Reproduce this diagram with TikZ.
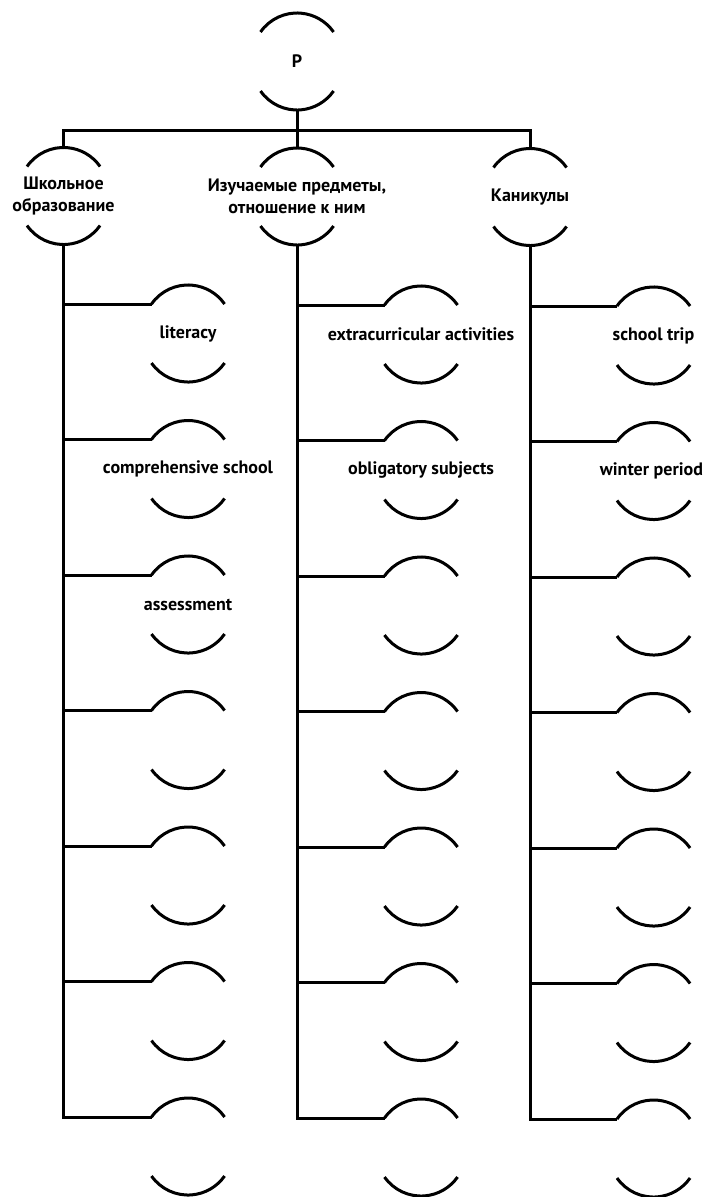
\documentclass[tikz,border=0pt]{standalone}
\usepackage{fontspec}
\setmainfont{PT Sans}
\begin{document}
\begin{tikzpicture}[x=1pt,y=1pt,
  lbl/.style={inner sep=0pt, minimum width=74pt, minimum height=97pt, align=center,
    font=\bfseries\fontsize{18}{21.5}\selectfont},
  ln/.style={line width=3pt, black, line join=miter},
  arcl/.style={line width=3pt, black, line cap=butt}]
\useasboundingbox (0,0) rectangle (705,-1197);
% level 0 and 1
\node[lbl] (root) at (297,-61.5) {P};
\node[lbl] (s1) at (63.5,-196) {Школьное\\образование};
\node[lbl] (s2) at (297,-196.5) {Изучаемые предметы,\\отношение к ним};
\node[lbl] (s3) at (530,-197) {Каникулы};
% level 2
\foreach \t [count=\i from 1] in {literacy, comprehensive school, assessment, {}, {}, {}, {}}
  {\node[lbl] (a\i) at (188,{-333.5-135.5*(\i-1)}) {\t};}
\foreach \t [count=\i from 1] in {extracurricular activities, obligatory subjects, {}, {}, {}, {}, {}}
  {\node[lbl] (b\i) at (421,{-334.5-135.5*(\i-1)}) {\t};}
\foreach \t [count=\i from 1] in {school trip, {\hspace*{-4pt}winter period}, {}, {}, {}, {}, {}}
  {\node[lbl] (c\i) at (653.5,{-335.5-135.5*(\i-1)}) {\t};}
% arcs of every node
\foreach \n in {root,s1,s2,s3,a1,a2,a3,a4,a5,a6,a7,b1,b2,b3,b4,b5,b6,b7,c1,c2,c3,c4,c5,c6,c7}{
  \draw[arcl] ([shift={(-36.5pt,29.5pt)}]\n.center) arc[start angle=145,end angle=35,radius=44.6pt];
  \draw[arcl] ([shift={(-36.5pt,-29.5pt)}]\n.center) arc[start angle=215,end angle=325,radius=44.6pt];
  \coordinate (\n-in) at ([shift={(-36.5pt,29.5pt)}]\n.center);
}
% connectors level 0 -> 1
\coordinate (bar) at (297,-130);
\draw[ln] (root.south) -- (s2.north);
\draw[ln] (s1.north) -- (s1.north |- bar) -- (s3.north |- bar) -- (s3.north);
% columns
\foreach \s/\c in {s1/a,s2/b,s3/c}{
  \draw[ln] (\s.south) |- (\c7-in);
  \foreach \i in {1,...,6}{
    \draw[ln] (\s.south |- \c\i-in) -- (\c\i-in);
  }
}
\end{tikzpicture}
\end{document}
